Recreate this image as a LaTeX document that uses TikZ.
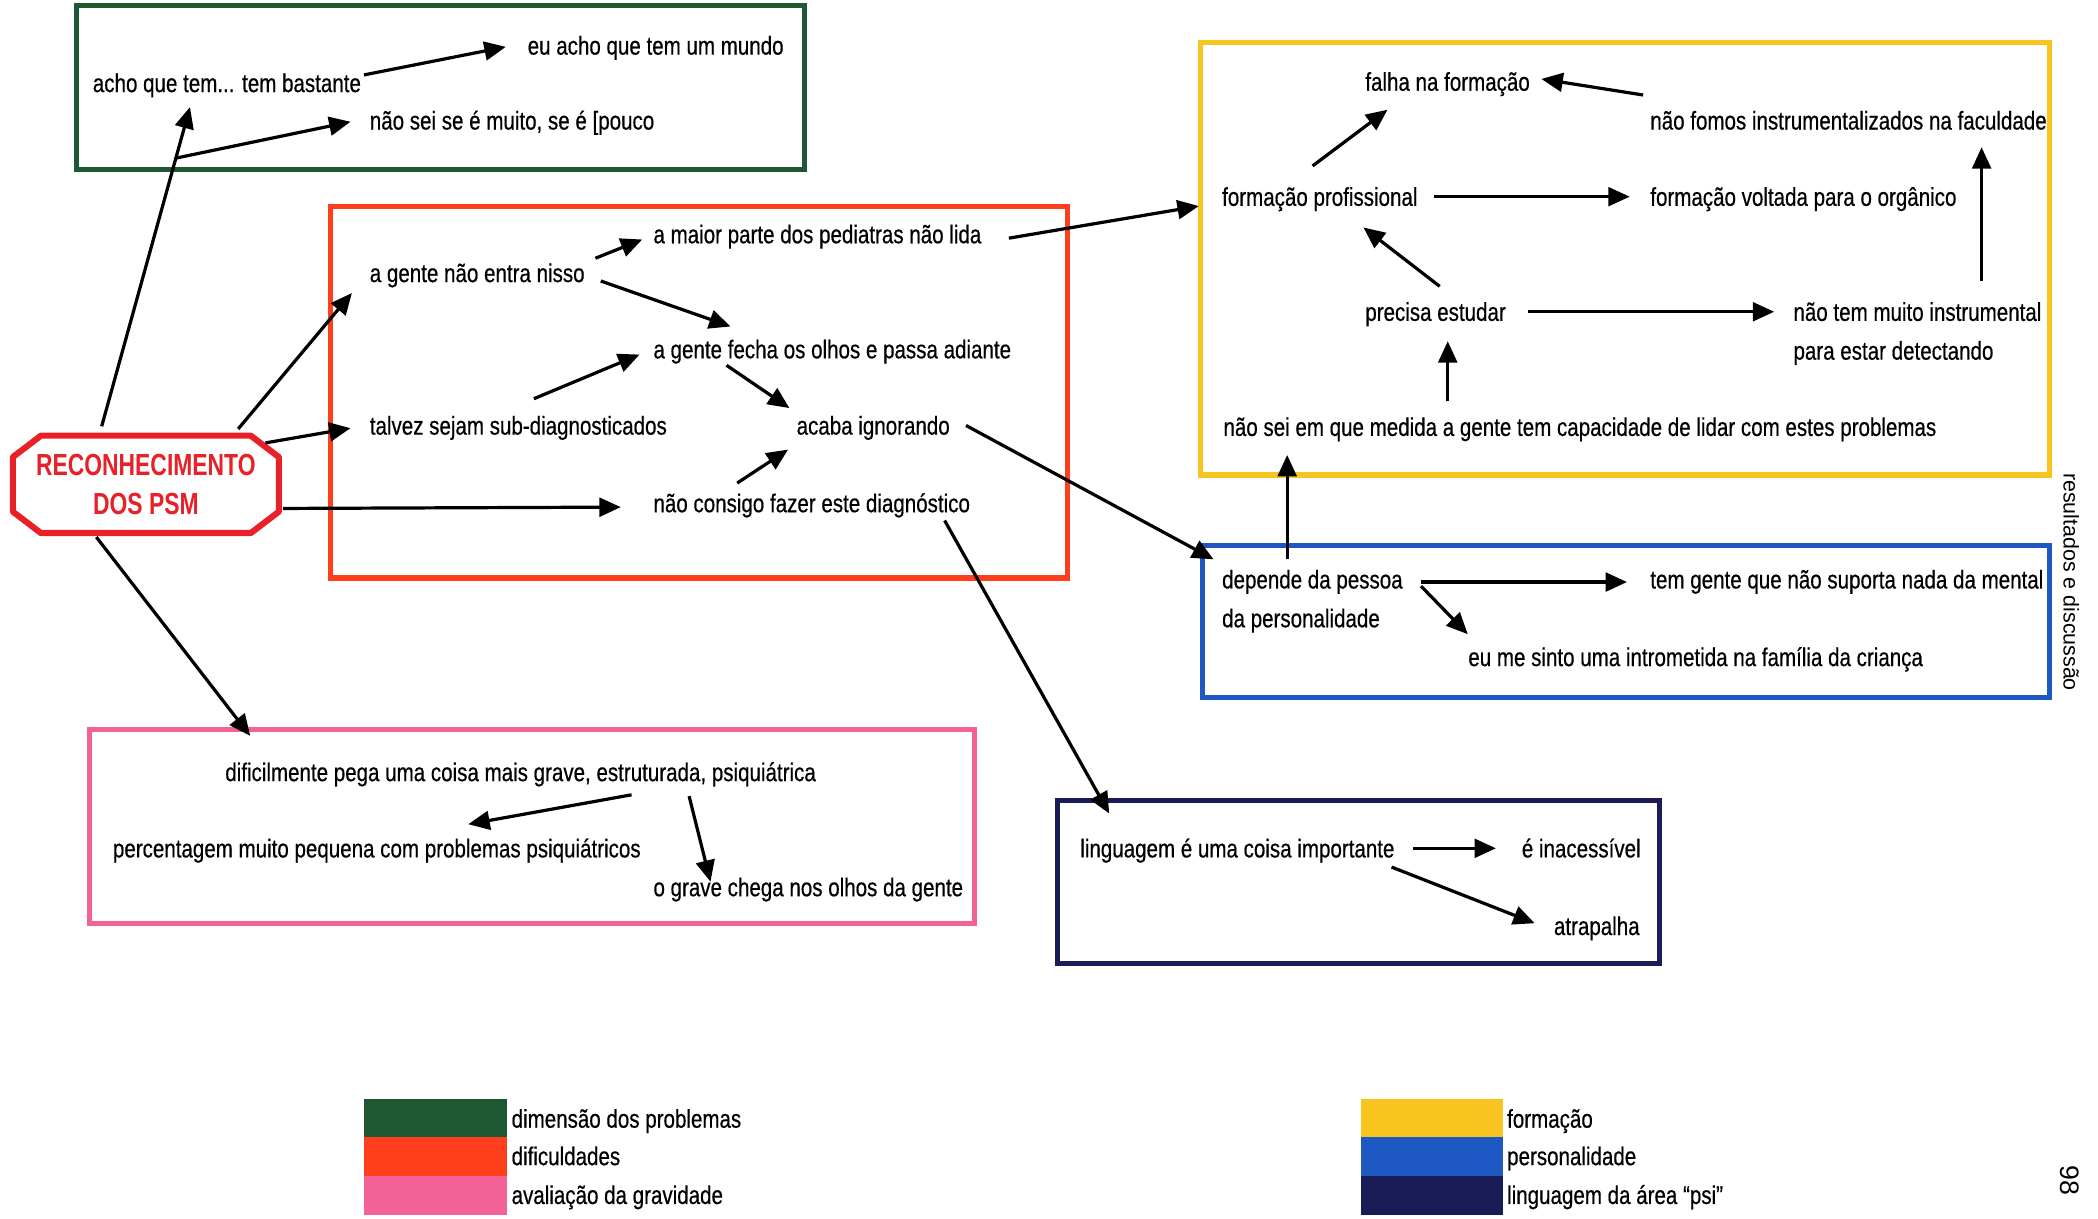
\documentclass[tikz,border=0pt]{standalone}
\usepackage{fontspec}
\setmainfont{Liberation Sans}[FakeStretch=0.8, FakeBold=0.5]
\newfontfamily\headfont{Liberation Sans}[FakeStretch=0.75]
\newfontfamily\widefont{Liberation Sans}
\usetikzlibrary{arrows.meta}

\definecolor{dimgreen}{RGB}{30,88,50}
\definecolor{difred}{RGB}{255,62,28}
\definecolor{gravpink}{RGB}{242,98,150}
\definecolor{formyellow}{RGB}{250,196,32}
\definecolor{persblue}{RGB}{30,88,195}
\definecolor{psinavy}{RGB}{26,28,88}
\definecolor{psmred}{RGB}{232,32,40}

\begin{document}
\begin{tikzpicture}[x=0.5pt,y=-0.5pt,
  txt/.style={anchor=west, inner sep=0pt, text height=0.73em, text depth=0.05em,
              font=\fontsize{9.6pt}{11pt}\selectfont},
  arr/.style={line width=1.2pt, -{Triangle[length=8pt,width=7pt]}},
  frame/.style={line width=1.9pt}]

\useasboundingbox (0,0) rectangle (1568,911);

% ---------- category frames ----------
\draw[frame, dimgreen]   (57,4)    rectangle (601,127);
\draw[frame, difred]     (247,154) rectangle (798,432);
\draw[frame, formyellow] (897,32)  rectangle (1532,355);
\draw[frame, persblue]   (899,408) rectangle (1532,521);
\draw[frame, gravpink]   (67,545)  rectangle (728,690);
\draw[frame, psinavy]    (790,598) rectangle (1240,720);

% ---------- central node ----------
\node[inner sep=0pt, minimum width=99pt, minimum height=36pt, align=center,
      text=psmred, font=\headfont\fontsize{11.4pt}{14.5pt}\selectfont\bfseries]
  (psm) at (109,362) {RECONHECIMENTO\\DOS PSM};
\draw[psmred, line width=2.3pt, line join=round]
  ([shift={(21,0)}]psm.north west) -- ([shift={(-21,0)}]psm.north east)
  -- ([shift={(0,16)}]psm.north east) -- ([shift={(0,-16)}]psm.south east)
  -- ([shift={(-21,0)}]psm.south east) -- ([shift={(21,0)}]psm.south west)
  -- ([shift={(0,-16)}]psm.south west) -- ([shift={(0,16)}]psm.north west) -- cycle;

% ---------- dimensão dos problemas ----------
\node[txt] (mundo)  at (394,34) {eu acho que tem um mundo};
\node[txt] (acho)   at (69,62)  {acho que tem... tem bastante};
\node[txt] (naosei) at (276,90) {não sei se é muito, se é [pouco};

% ---------- dificuldades ----------
\node[txt] (maior)   at (488,175) {a maior parte dos pediatras não lida};
\node[txt] (entra)   at (276,204) {a gente não entra nisso};
\node[txt] (fecha)   at (488,261) {a gente fecha os olhos e passa adiante};
\node[txt] (talvez)  at (276,318) {talvez sejam sub-diagnosticados};
\node[txt] (acaba)   at (595,318) {acaba ignorando};
\node[txt] (consigo) at (488,376) {não consigo fazer este diagnóstico};

% ---------- formação ----------
\node[txt] (falha)    at (1020,61)  {falha na formação};
\node[txt] (fomos)    at (1233,90)  {não fomos instrumentalizados na faculdade};
\node[txt] (formprof) at (913,147)  {formação profissional};
\node[txt] (voltada)  at (1233,147) {formação voltada para o orgânico};
\node[txt] (precisa)  at (1020,233) {precisa estudar};
\node[txt] (instr)    at (1340,233) {não tem muito instrumental};
\node[txt] (instrb)   at (1340,262) {para estar detectando};
\node[txt] (medida)   at (914,319)  {não sei em que medida a gente tem capacidade de lidar com estes problemas};

% ---------- personalidade ----------
\node[txt] (depende)  at (913,433)  {depende da pessoa};
\node[txt] (dependeb) at (913,462)  {da personalidade};
\node[txt] (temgente) at (1233,433) {tem gente que não suporta nada da mental};
\node[txt] (intro)    at (1097,491) {eu me sinto uma intrometida na família da criança};

% ---------- avaliação da gravidade ----------
\node[txt] (dificil) at (168,577) {dificilmente pega uma coisa mais grave, estruturada, psiquiátrica};
\node[txt] (percent) at (84,634)  {percentagem muito pequena com problemas psiquiátricos};
\node[txt] (grave)   at (488,663) {o grave chega nos olhos da gente};

% ---------- linguagem ----------
\node[txt] (ling)    at (807,634)  {linguagem é uma coisa importante};
\node[txt] (inacess) at (1137,634) {é inacessível};
\node[txt] (atrap)   at (1161,692) {atrapalha};

% ---------- connectors ----------
\draw[arr] ([shift={(-33,-7)}]psm.north) -- coordinate[pos=0.84] (branch)
           ([shift={(73,18)}]acho.west);
\draw[arr] (branch) -- ([shift={(-14,1)}]naosei.west);
\draw[arr] ([shift={(203,-6)}]acho.west) -- ([shift={(-16,1)}]mundo.west);

\draw[arr] ([shift={(69,-5)}]psm.north) -- ([shift={(-13,15)}]entra.west);
\draw[arr] ([shift={(-10,-31)}]psm.east) -- ([shift={(-14,2)}]talvez.west);
\draw[arr] ([shift={(3,18)}]psm.east) -- ([shift={(-24,3)}]consigo.west);
\draw[arr] ([shift={(-37,3)}]psm.south) -- ([shift={(19,-27)}]dificil.west);

\draw[arr] ([shift={(169,-11)}]entra.west) -- ([shift={(-8,4)}]maior.west);
\draw[arr] ([shift={(173,6)}]entra.west) -- ([shift={(58,-17)}]fecha.west);
\draw[arr] ([shift={(123,-20)}]talvez.west) -- ([shift={(-10,4)}]fecha.west);
\draw[arr] ([shift={(55,12)}]fecha.west) -- ([shift={(-5,-13)}]acaba.west);
\draw[arr] ([shift={(63,-15)}]consigo.west) -- ([shift={(-6,18)}]acaba.west);

\draw[arr] ([shift={(266,3)}]maior.west) -- ([shift={(-17,7)}]formprof.west);
\draw[arr] ([shift={(127,0)}]acaba.west) -- ([shift={(-6,-15)}]depende.west);
\draw[arr] ([shift={(218,13)}]consigo.west) -- ([shift={(22,-26)}]ling.west);

\draw[arr] ([shift={(49,-15)}]depende.west) -- ([shift={(48,21)}]medida.west);
\draw[arr] ([shift={(168,-19)}]medida.west) -- ([shift={(62,22)}]precisa.west);
\draw[arr] ([shift={(56,-19)}]precisa.west) -- ([shift={(106,23)}]formprof.west);
\draw[arr] ([shift={(68,-23)}]formprof.west) -- ([shift={(17,21)}]falha.west);
\draw[arr] ([shift={(159,0)}]formprof.west) -- ([shift={(-15,0)}]voltada.west);
\draw[arr] ([shift={(122,0)}]precisa.west) -- ([shift={(-14,0)}]instr.west);
\draw[arr] ([shift={(141,-23)}]instr.west) -- ([shift={(248,20)}]fomos.west);
\draw[arr] ([shift={(-5,-19)}]fomos.west) -- ([shift={(132,-2)}]falha.west);

\draw[arr] ([shift={(149,2)}]depende.west) -- ([shift={(-17,2)}]temgente.west);
\draw[arr] ([shift={(149,5)}]depende.west) -- ([shift={(0,-17)}]intro.west);

\draw[arr] ([shift={(304,17)}]dificil.west) -- ([shift={(266,-18)}]percent.west);
\draw[arr] ([shift={(347,18)}]dificil.west) -- ([shift={(43,-4)}]grave.west);

\draw[arr] ([shift={(249,0)}]ling.west) -- ([shift={(-19,0)}]inacess.west);
\draw[arr] ([shift={(233,14)}]ling.west) -- ([shift={(-14,-2)}]atrap.west);

% ---------- legend ----------
\fill[dimgreen]   (272,821) rectangle (379,850);
\fill[difred]     (272,850) rectangle (379,879);
\fill[gravpink]   (272,879) rectangle (379,908);
\fill[formyellow] (1017,821) rectangle (1123,850);
\fill[persblue]   (1017,850) rectangle (1123,879);
\fill[psinavy]    (1017,879) rectangle (1123,908);

\node[txt] (lgA) at (382,836)  {dimensão dos problemas};
\node[txt] (lgB) at (382,864)  {dificuldades};
\node[txt] (lgC) at (382,893)  {avaliação da gravidade};
\node[txt] (lgD) at (1126,836) {formação};
\node[txt] (lgE) at (1126,864) {personalidade};
\node[txt] (lgF) at (1126,893) {linguagem da área ``psi''};

% ---------- margin notes ----------
\node[rotate=-90, inner sep=0pt, font=\widefont\fontsize{8pt}{10pt}\selectfont]
  (section) at (1548,435) {resultados e discussão};
\node[rotate=-90, inner sep=0pt, font=\widefont\fontsize{10pt}{12pt}\selectfont]
  (pagenum) at (1547,882) {98};

\end{tikzpicture}
\end{document}
